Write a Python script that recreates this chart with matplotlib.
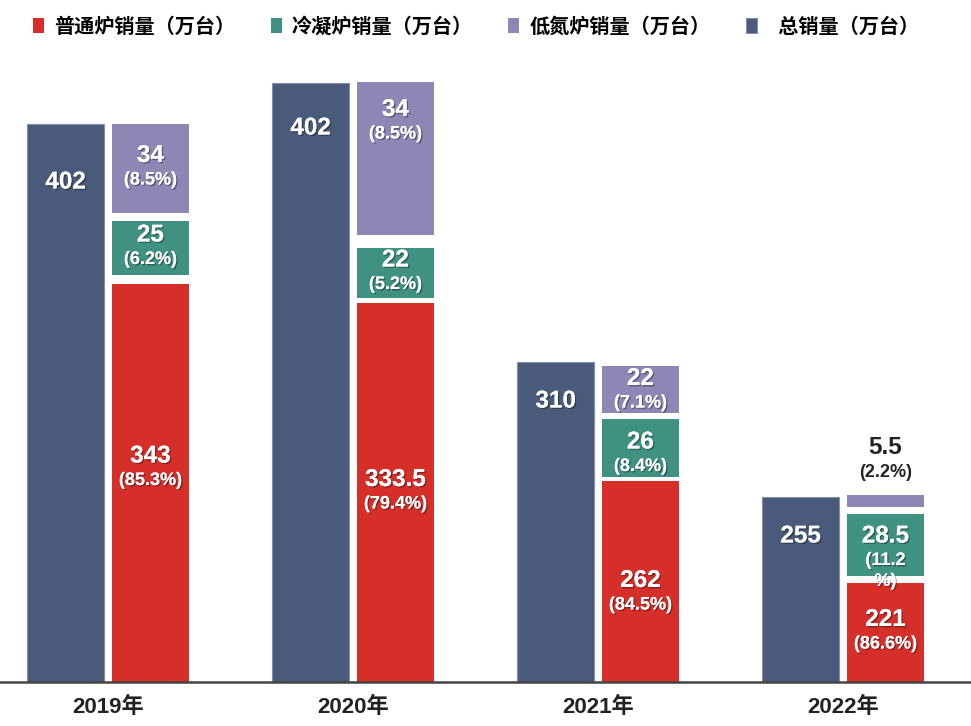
import numpy as np
import matplotlib.pyplot as plt
import matplotlib.patheffects as pe

plt.rcParams['font.family'] = ['Liberation Sans', 'Noto Sans CJK SC', 'DejaVu Sans']

# 数据（标签数值）
years = ['2019年', '2020年', '2021年', '2022年']
total = ['402', '402', '310', '255']
normal = ['343', '333.5', '262', '221']
normal_pct = ['(85.3%)', '(79.4%)', '(84.5%)', '(86.6%)']
cond = ['25', '22', '26', '28.5']
cond_pct = ['(6.2%)', '(5.2%)', '(8.4%)', '(11.2\n%)']
lown = ['34', '34', '22', '5.5']
lown_pct = ['(8.5%)', '(8.5%)', '(7.1%)', '(2.2%)']

# 原图中柱子的显示高度（原图未按比例绘制）
total_h = [558, 599, 320, 185]
normal_h = [398, 379, 201, 99]
cond_h = [54, 50, 58, 62]
lown_h = [89, 153, 47, 12]

names = ['普通炉销量（万台）', '冷凝炉销量（万台）', '低氮炉销量（万台）', '  总销量（万台）']
c_red, c_green, c_purple, c_navy = '#D62F2A', '#3F9282', '#8C87B5', '#4A5A7A'

# 段间白色间隙
gap1 = np.array([9, 5, 4, 7])
gap2 = np.array([8, 13, 6, 7])
w = 0.314
off = 0.173
x = np.arange(len(years))

fig = plt.figure(figsize=(9.71, 7.26), dpi=100)
ax = fig.add_axes([0, 44 / 726, 1, 640 / 726])

b_tot = ax.bar(x - off, total_h, w, color=c_navy, edgecolor='#8290ab', linewidth=0.8)
b_red = ax.bar(x + off, normal_h, w, color=c_red)
bot2 = np.array(normal_h) + gap1
b_grn = ax.bar(x + off, cond_h, w, bottom=bot2, color=c_green)
bot3 = bot2 + np.array(cond_h) + gap2
b_pur = ax.bar(x + off, lown_h, w, bottom=bot3, color=c_purple)

shadow = [pe.withSimplePatchShadow(offset=(1, -1), shadow_rgbFace='k', alpha=0.35), pe.Normal()]

def label(xc, yc, val, pct, color='white', fx=None):
    kw = dict(ha='center', color=color, fontweight='bold', path_effects=fx)
    ax.text(xc, yc + 13, val, va='center', fontsize=17.5, **kw)
    ax.text(xc, yc - 3, pct, va='top', fontsize=13, linespacing=1.3, **kw)

# 总销量标签
tot_off = [58, 45, 39, 39]
for i in range(len(years)):
    ax.text(x[i] - off, total_h[i] - tot_off[i], total[i], ha='center', va='center',
            color='white', fontsize=17.5, fontweight='bold', path_effects=shadow)

# 堆叠柱标签
shift_red = [14, 0, -12, 0]
shift_grn = [0, 0, -7, -4]
shift_pur = [0, 36, -2, 0]
for i in range(len(years)):
    xc = x[i] + off
    label(xc, normal_h[i] / 2 + shift_red[i], normal[i], normal_pct[i], fx=shadow)
    label(xc, bot2[i] + cond_h[i] / 2 + shift_grn[i], cond[i], cond_pct[i], fx=shadow)
    if lown_h[i] < 30:
        top = bot3[i] + lown_h[i]
        label(xc, top + 34, lown[i], lown_pct[i], color='#222222')
    else:
        label(xc, bot3[i] + lown_h[i] / 2 + shift_pur[i], lown[i], lown_pct[i], fx=shadow)

ax.set_xlim(-108 / 245, 863 / 245)
ax.set_ylim(0, 640)
for s in ['top', 'right', 'left']:
    ax.spines[s].set_visible(False)
ax.spines['bottom'].set_color('#444444')
ax.spines['bottom'].set_linewidth(1.8)
ax.set_yticks([])
ax.set_xticks(x)
ax.set_xticklabels(years, fontsize=16, fontweight='bold', color='#222222')
ax.tick_params(axis='x', length=0, pad=11)

fig.legend([b_red, b_grn, b_pur, b_tot], names, loc='center left',
           bbox_to_anchor=(33 / 971, 1 - 27 / 726), ncol=4, frameon=False,
           prop={'size': 14.5, 'weight': 'bold'}, handlelength=0.55, handleheight=0.75,
           handletextpad=0.5, columnspacing=1.75, borderpad=0, borderaxespad=0)

plt.savefig('out.png', dpi=100)
